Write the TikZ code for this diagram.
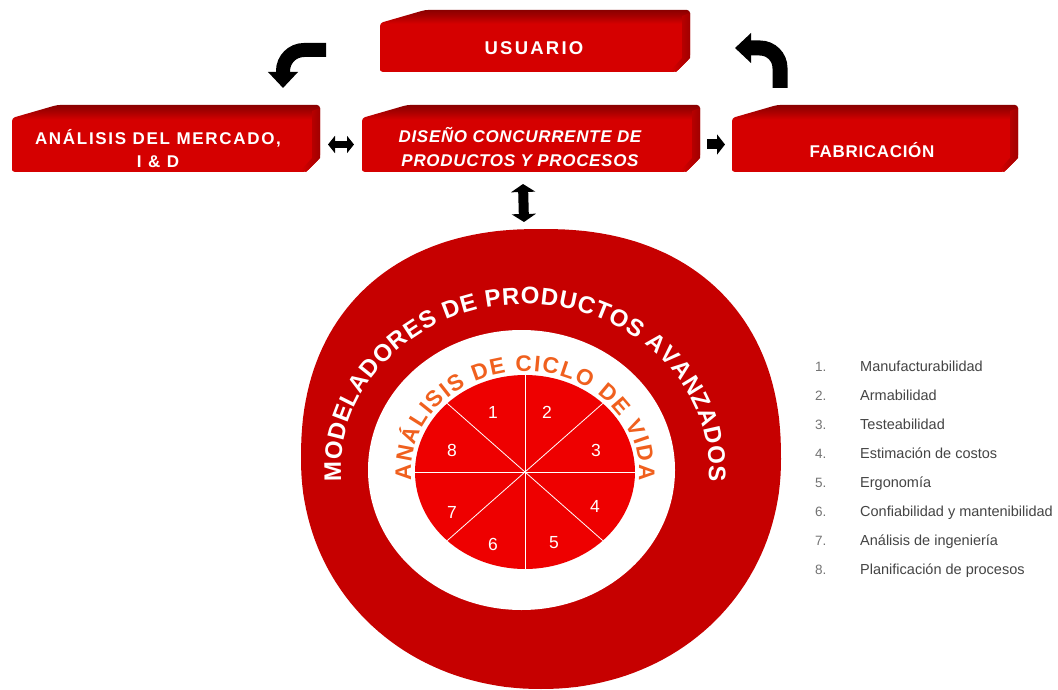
\documentclass[tikz,border=0pt]{standalone}
\usepackage{fontspec}
\setmainfont{Liberation Sans}
\newfontfamily\boxfont[LetterSpace=4]{Liberation Sans}
\newfontfamily\boxfontwide[LetterSpace=10]{Liberation Sans}
\newfontfamily\boxfontwider[LetterSpace=12]{Liberation Sans}
\usetikzlibrary{arrows.meta,decorations.text,calc}

\definecolor{boxred}{HTML}{D50000}
\definecolor{boxdark}{HTML}{A80000}
\definecolor{boxtop}{HTML}{8A0000}
\definecolor{boxside}{HTML}{A00000}
\definecolor{ringred}{HTML}{C60000}
\definecolor{piered}{HTML}{EE0000}
\definecolor{lifeorange}{HTML}{F0601E}
\definecolor{legendgray}{HTML}{444444}

% vertical shading of a box face: bright red with a dark band on top
\pgfdeclareverticalshading{boxface}{100bp}{color(0bp)=(boxred); color(25bp)=(boxred); color(64bp)=(boxred); color(70bp)=(boxdark); color(75bp)=(boxtop); color(100bp)=(boxtop)}

% bevelled red block drawn over the extent of a (blank) node
\newcommand\boxshape[1]{%
  \path[shading=boxface, rounded corners=3pt]
    let \p1=(#1.north west), \p2=(#1.south east) in
    (\x1,\y2+4pt) -- (\x1,\y1-13pt) -- (\x1+45pt,\y1) -- (\x2,\y1)
    -- (\x2,\y2+14pt) -- (\x2-14pt,\y2) -- (\x1,\y2) -- cycle;
  \path[left color=boxred, right color=boxside]
    let \p1=(#1.north west), \p2=(#1.south east) in
    (\x2-8pt,\y1-6pt) -- (\x2,\y1-3pt) -- (\x2,\y2+14pt) -- (\x2-14pt,\y2)
    -- (\x2-19pt,\y2+2pt) -- (\x2-8pt,\y2+14pt) -- cycle;
}

\tikzset{
  blockarea/.style={rectangle, inner sep=0pt, outer sep=0pt},
  blocklabel/.style={text=white, align=center, inner sep=0pt,
    font=\boxfont\bfseries\fontsize{17}{24}\selectfont},
  bentarrow/.style={line width=14pt, draw=black, -{Triangle[width=29pt,length=16pt]}},
  hdbl/.style={line width=7pt, draw=black,
    {Triangle[width=17pt,length=7pt]}-{Triangle[width=17pt,length=7pt]}},
  hsgl/.style={line width=10pt, draw=black, -{Triangle[width=20pt,length=8pt]}},
  vdbl/.style={line width=10pt, draw=black,
    {Triangle[width=24pt,length=8pt]}-{Triangle[width=24pt,length=8pt]}},
  pienum/.style={text=white, inner sep=0pt, font=\fontsize{17.5}{18}\selectfont},
  legnum/.style={text=legendgray!75, inner sep=0pt, anchor=base west,
    font=\fontsize{13.5}{14}\selectfont},
  legtext/.style={text=legendgray, inner sep=0pt, anchor=base west,
    font=\fontsize{14.5}{15}\selectfont},
}

\begin{document}
\begin{tikzpicture}[x=1pt, y=1pt]
\useasboundingbox (0,0) rectangle (1058,-690);
\fill[white] (0,0) rectangle (1058,-690);

% ---- block areas ----
\node[blockarea, minimum width=310pt, minimum height=62pt] (usuario)  at (535,-41)    {};
\node[blockarea, minimum width=308pt, minimum height=67pt] (analisis) at (166,-138.5) {};
\node[blockarea, minimum width=338pt, minimum height=67pt] (diseno)   at (531,-138.5) {};
\node[blockarea, minimum width=286pt, minimum height=67pt] (fabrica)  at (875,-138.5) {};

\boxshape{usuario}
\boxshape{analisis}
\boxshape{diseno}
\boxshape{fabrica}

\node[blocklabel, font=\boxfontwider\bfseries\fontsize{18.5}{24}\selectfont]
                  (usuario-t)  at (534,-48)    {USUARIO};
\node[blocklabel, font=\boxfontwide\bfseries\fontsize{17}{23}\selectfont]
                  (analisis-t) at (158,-149)   {ANÁLISIS DEL MERCADO,\\I \& D};
\node[blocklabel, font=\boxfont\bfseries\itshape\fontsize{17}{24}\selectfont]
                  (diseno-t)   at (520,-147)   {DISEÑO CONCURRENTE DE\\PRODUCTOS Y PROCESOS};
\node[blocklabel] (fabrica-t)  at (872,-150)   {FABRICACIÓN};

% ---- connectors between blocks ----
\coordinate (b1s) at ($(usuario.west)+(-54,-9)$);
\coordinate (b1e) at ($(analisis.north west)+(271,17)$);
\draw[bentarrow] (b1s) -- ++(-22,0) arc[start angle=90, end angle=180, radius=21] -- (b1e);

\coordinate (b2s) at ($(fabrica.north west)+(48,17)$);
\coordinate (b2e) at ($(usuario.east)+(45,-7)$);
\draw[bentarrow, line width=15pt] (b2s) -- ++(0,20) arc[start angle=0, end angle=90, radius=20] -- (b2e);

\draw[hdbl] ([xshift=8pt,yshift=-6pt]analisis.east) -- ([xshift=-8pt,yshift=-6pt]diseno.west);
\draw[hsgl] ([xshift=7pt,yshift=-6pt]diseno.east) -- ([xshift=-7pt,yshift=-6pt]fabrica.west);

% ---- life-cycle disc: round outline, slightly fuller on top ----
\coordinate (disctop) at (524,-229);
\fill[ringred]
  plot[domain=0:180, samples=91, variable=\t]
    ({541+240*(cos(\t)<0 ? -1 : 1)*(abs(cos(\t))+0.00001)^(0.88)},
     {-459+230*(abs(sin(\t))+0.00001)^(0.88)})
  -- plot[domain=180:360, samples=91, variable=\t]
    ({541+240*(cos(\t)<0 ? -1 : 1)*(abs(cos(\t))+0.00001)^(0.97)},
     {-459-230*(abs(sin(\t))+0.00001)^(0.97)})
  -- cycle;
\fill[white] (521.5,-470) ellipse[x radius=153.5, y radius=140];

\draw[vdbl] ([xshift=-8pt,yshift=-12pt]diseno.south) -- ([yshift=7pt]disctop);

\coordinate (pc) at (525,-472);
\fill[piered] (pc) ellipse[x radius=110, y radius=97];
\foreach \a in {0,45,...,315}
  \draw[white, line width=0.8pt] (pc) -- ++(\a:110 and 97);

\node[pienum] (s1) at (493,-412) {1};
\node[pienum] (s2) at (547,-412) {2};
\node[pienum] (s3) at (596,-450) {3};
\node[pienum] (s4) at (595,-506) {4};
\node[pienum] (s5) at (554,-543) {5};
\node[pienum] (s6) at (493,-544) {6};
\node[pienum] (s7) at (452,-512) {7};
\node[pienum] (s8) at (452,-450) {8};

% curved titles
\begin{scope}[shift={(525,-470)}]
\path[decorate, decoration={text along path, text color=white,
    text={|\bfseries\fontsize{24}{24}\selectfont|MODELADORES DE PRODUCTOS AVANZADOS},
    text align={fit to path}}]
  (184:184 and 166) arc[start angle=184, end angle=-4, x radius=184, y radius=166];
\end{scope}
\begin{scope}[shift={(525,-472)}]
\path[decorate, decoration={text along path, text color=lifeorange,
    text={|\bfseries\fontsize{22.5}{23}\selectfont|ANÁLISIS DE CICLO DE VIDA},
    text align={fit to path}}]
  (185:114 and 101) arc[start angle=185, end angle=-5, x radius=114, y radius=101];
\end{scope}

% ---- legend ----
\foreach \t [count=\i] in {Manufacturabilidad, Armabilidad, Testeabilidad,
    Estimación de costos, Ergonomía, Confiabilidad y mantenibilidad,
    Análisis de ingeniería, Planificación de procesos}{
  \node[legnum]  (num\i)  at (815,{-371-29*(\i-1)}) {\i.};
  \node[legtext] (item\i) at (860,{-371-29*(\i-1)}) {\t};
}
\end{tikzpicture}
\end{document}
